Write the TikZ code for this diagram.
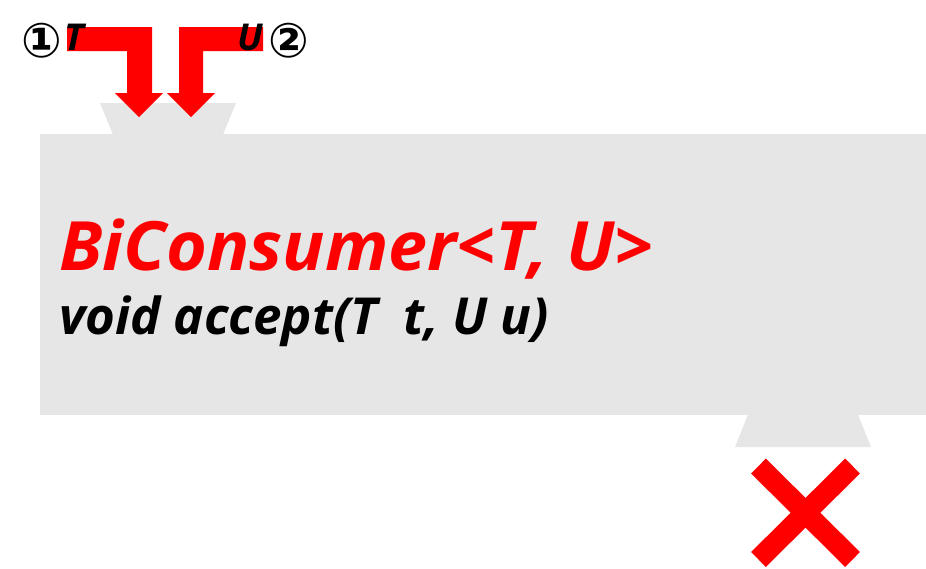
\documentclass[tikz,border=0pt]{standalone}
\usepackage{fontspec}
\setmainfont{Open Sans}
\newfontfamily\symfont{DejaVu Sans}
\newfontfamily\widefont{Open Sans}[FakeStretch=1.03]
\definecolor{boxgray}{HTML}{E6E6E6}
\definecolor{pure red}{HTML}{FF0000}
\tikzset{
  graybox/.style={fill=boxgray, draw=none},
  redshape/.style={fill=pure red, draw=none},
  crossline/.style={draw=pure red, line width=21pt, line cap=butt},
  lbl/.style={inner sep=0pt, font=\bfseries\itshape},
  circnum/.style={inner sep=0pt, font=\symfont\bfseries\fontsize{48}{48}\selectfont},
}
\begin{document}
\begin{tikzpicture}[x=1pt,y=-1pt]
\useasboundingbox (0,0) rectangle (926,568);
% body
\fill[graybox] (40,134) rectangle (926,415);
\fill[graybox] (100,103) -- (236,103) -- (223,134.5) -- (113,134.5) -- cycle;
\fill[graybox] (748,414.5) -- (858,414.5) -- (871,447) -- (735,447) -- cycle;
% arrows
\fill[redshape] (67,27) -- (152,27) -- (152,93) -- (163,93) -- (139,117) -- (115,93) -- (127,93) -- (127,51) -- (67,51) -- cycle;
\fill[redshape] (263,27) -- (179,27) -- (179,93) -- (167,93) -- (191,117) -- (215,93) -- (203,93) -- (203,51) -- (263,51) -- cycle;
% labels
\node[lbl, anchor=base west, font=\bfseries\itshape\fontsize{37}{37}\selectfont] (tl) at (64,50) {T};
\node[lbl, anchor=base east, font=\bfseries\itshape\fontsize{37}{37}\selectfont] (ul) at (263,50) {U};
\node[circnum] (c1) at (41.5,41) {①};
\node[circnum] (c2) at (288.5,41) {②};
% text
\node[lbl, anchor=base west, text=pure red, font=\widefont\bfseries\itshape\fontsize{68}{68}\selectfont] (title) at (59,270) {BiConsumer<T, U>};
\node[lbl, anchor=base west, font=\bfseries\itshape\fontsize{51}{51}\selectfont] (method) at (59,334) {void accept(T\ \ t, U u)};
% cross
\coordinate (xa) at (758.5,466);
\coordinate (xb) at (852.5,559.5);
\coordinate (xc) at (852.5,466);
\coordinate (xd) at (758.5,559.5);
\draw[crossline] (xa) -- (xb);
\draw[crossline] (xc) -- (xd);
\end{tikzpicture}
\end{document}
